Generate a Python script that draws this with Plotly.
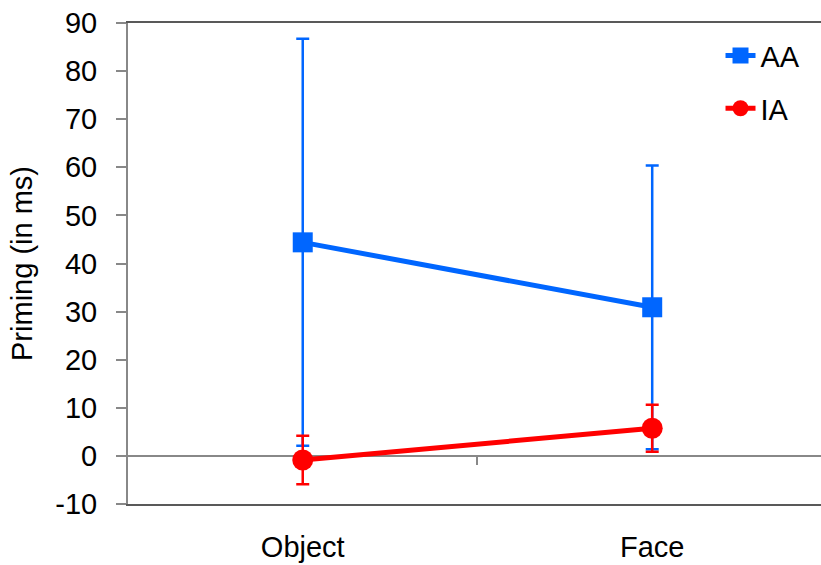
import plotly.graph_objects as go

# Conditions on the x axis
categories = ["Object", "Face"]

# Mean priming (ms) and error-bar half-widths per condition
aa_mean = [44.4, 30.9]
aa_err = [42.3, 29.5]
ia_mean = [-0.85, 5.75]
ia_err = [5.05, 4.9]

y_ticks = list(range(-10, 91, 10))
y_tick_text = [str(v) for v in y_ticks]

BLUE = "#0066FF"
RED = "#FF0000"
FONT = "Liberation Sans, Arial, sans-serif"
FS = 29

xpos = list(range(len(categories)))

fig = go.Figure()

fig.add_trace(go.Scatter(
    x=xpos, y=aa_mean, name="AA", mode="lines+markers",
    line=dict(color=BLUE, width=5),
    marker=dict(symbol="square", size=20, color=BLUE),
    error_y=dict(type="data", array=aa_err, symmetric=True,
                 color=BLUE, thickness=2.5, width=6.5),
    legendgroup="aa",
))
fig.add_trace(go.Scatter(
    x=xpos, y=ia_mean, name="IA", mode="lines+markers",
    line=dict(color=RED, width=5),
    marker=dict(symbol="circle", size=21, color=RED),
    error_y=dict(type="data", array=ia_err, symmetric=True,
                 color=RED, thickness=2.5, width=6.5),
    legendgroup="ia",
))

# Invisible trace so the crossing axis at y=0 is rendered
fig.add_trace(go.Scatter(x=[None], y=[None], xaxis="x2", showlegend=False,
                         hoverinfo="skip"))

x_range = [-0.5, 1.483]

fig.update_layout(
    width=821, height=565,
    margin=dict(l=128, r=0, t=23, b=61),
    paper_bgcolor="white", plot_bgcolor="white",
    font=dict(family=FONT, size=FS, color="black"),
    showlegend=True,
    legend=dict(x=0.855, y=0.985, xanchor="left", yanchor="top",
                font=dict(size=FS), bgcolor="rgba(0,0,0,0)",
                traceorder="grouped", tracegroupgap=12),
    xaxis=dict(
        range=x_range, tickvals=xpos, ticktext=categories,
        showline=True, mirror=True, linecolor="#595959", linewidth=1.5,
        ticks="", showgrid=False, zeroline=False, ticklabelstandoff=16,
    ),
    xaxis2=dict(
        overlaying="x", anchor="free", position=0.1, range=x_range,
        tickvals=[0.5], ticks="outside", ticklen=8, tickwidth=2,
        tickcolor="#888888", showticklabels=False, showline=False,
        showgrid=False, zeroline=False,
    ),
    yaxis=dict(
        range=[-10, 90], tickvals=y_ticks, ticktext=y_tick_text,
        showline=True,
        linecolor="#888888", linewidth=2, ticks="outside", ticklen=10,
        tickwidth=2, tickcolor="#888888", showgrid=False,
        zeroline=True, zerolinecolor="#888888", zerolinewidth=2,
        ticklabelstandoff=13,
        title=dict(text="Priming (in ms)", font=dict(size=FS), standoff=14),
    ),
)

fig.write_html("out.html")
